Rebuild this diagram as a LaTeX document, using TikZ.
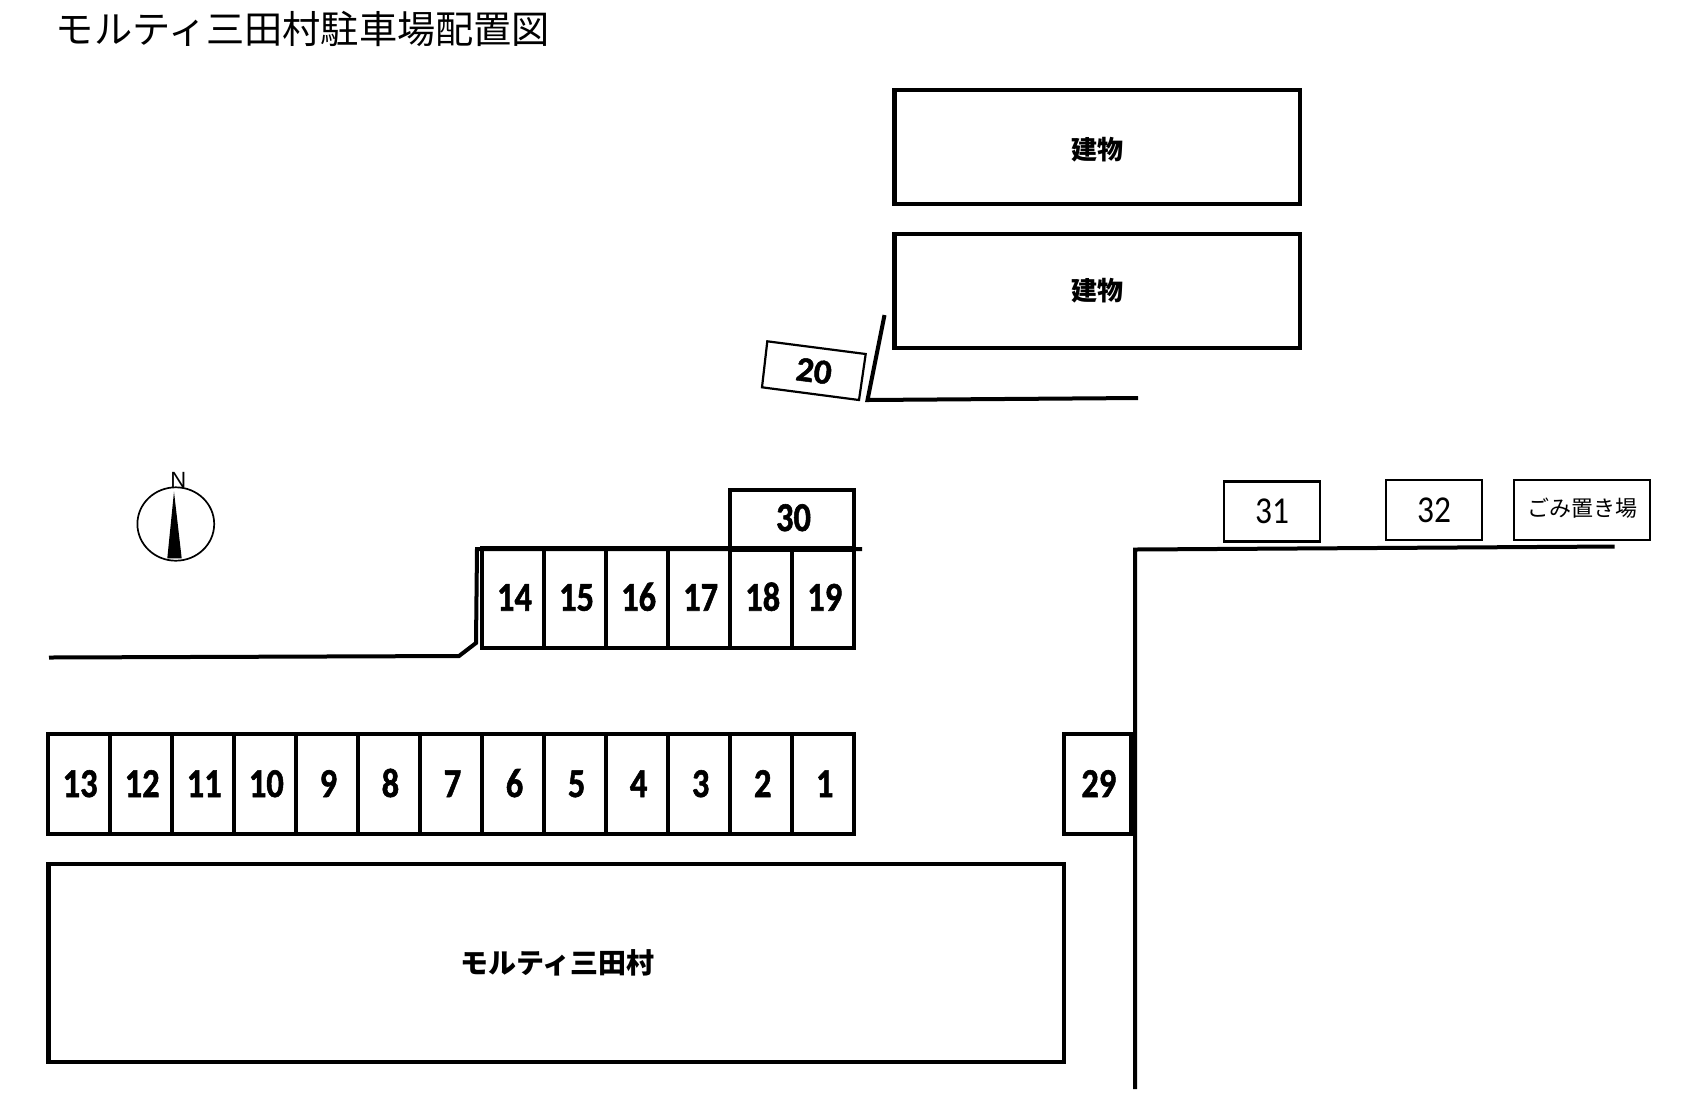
\documentclass[tikz,border=0pt]{standalone}
\usepackage{fontspec}
\usetikzlibrary{shapes.geometric}
\newfontfamily\jpfont{Noto Sans CJK JP}
\newfontfamily\digitfont[BoldFeatures={FakeBold=1.4}]{Carlito}
\newfontfamily\norfont{Liberation Sans}
\newcommand{\parkno}[1]{\kern1.5pt\scalebox{.84}[1]{#1}}
\tikzset{
  building/.style={draw=black,line width=2.15pt,rectangle,inner sep=0pt,font=\jpfont\bfseries\fontsize{13}{13}\selectfont},
  slot/.style={draw=black,line width=2pt,rectangle,inner sep=0pt,minimum width=31pt,minimum height=50pt,text height=13pt,text depth=0pt,font=\digitfont\bfseries\fontsize{20.5}{21}\selectfont},
  thinbox/.style={draw=black,line width=1.15pt,rectangle,inner sep=0pt,minimum width=48pt,minimum height=30pt,font=\digitfont\fontsize{19}{19}\selectfont},
  wall/.style={draw=black,line width=2pt,line join=miter},
}
\begin{document}
\begin{tikzpicture}[x=0.5pt,y=-0.5pt]
\useasboundingbox[fill=white] (0,0) rectangle (1682,1100);
% title
\node[inner sep=0pt,font=\jpfont\fontsize{19.1}{19}\selectfont] (title) at (303,29) {モルティ三田村駐車場配置図};
% buildings
\node[building,minimum width=202.75pt,minimum height=57pt,text height=13.5pt,text depth=1pt] (b1) at (1097.25,147) {建物};
\node[building,minimum width=202.75pt,minimum height=57pt] (b2) at (1097.25,291) {建物};
\node[building,minimum width=507.7pt,minimum height=99pt,font=\jpfont\bfseries\fontsize{14}{14}\selectfont] (mb) at (556.3,963) {\kern1pt モルティ三田村};
% space 20
\coordinate (a1) at (767.3,341.3);
\coordinate (a2) at (865.7,354);
\coordinate (a3) at (859,400);
\coordinate (a4) at (762,387.3);
\draw[line width=1.1pt] (a1) -- (a2) -- (a3) -- (a4) -- cycle;
\node[rotate=-7.5,inner sep=0pt,font=\digitfont\bfseries\fontsize{17.5}{18}\selectfont] (s20) at (814,371) {20};
% wall by building
\coordinate (w1) at (884.5,315);
\coordinate (w2) at (867.5,400);
\coordinate (w3) at (1138,398);
\draw[wall] (w1) -- (w2) -- (w3);
% slot 30
\node[slot,minimum width=61.8pt,minimum height=30pt] (s30) at (792,520) {\raisebox{1pt}{\parkno{30}}};
% rows
\foreach \i/\t in {1/1,2/2,3/3,4/4,5/5,6/6,7/7,8/8,9/9,10/10,11/11,12/12,13/13}
  \node[slot] (s\i) at ({854.3-62.05*\i+31.02},784) {\parkno{\t}};
\foreach \i/\t in {0/14,1/15,2/16,3/17,4/18,5/19}
  \node[slot] (s\t) at ({482+62.05*\i+31.02},597.7) {\parkno{\t}};
% line over upper row and left wall
\coordinate (l1) at (862,549);
\coordinate (l2) at (477,549);
\coordinate (l3) at (476,643);
\coordinate (l4) at (459,656);
\coordinate (l5) at (49,657.5);
\draw[wall] (l1) -- (l2) -- (l3) -- (l4) -- (l5);
% 29
\node[slot,minimum width=33.7pt] (s29) at (1097.3,784) {\parkno{29}};
% right wall
\coordinate (r1) at (1135,1089);
\coordinate (r2) at (1135,549.5);
\coordinate (r3) at (1614.6,546.5);
\draw[wall] (r1) -- (r2) -- (r3);
% small boxes
\node[thinbox] (s31) at (1272,511.5) {\scalebox{.88}[1]{31}};
\node[thinbox] (s32) at (1434,510) {\scalebox{.88}[1]{32}};
\node[thinbox,minimum width=68pt,text height=9.5pt,text depth=3pt,font=\jpfont\fontsize{11}{11}\selectfont] (trash) at (1582,510) {ごみ置き場};
% north mark
\node[draw=black,line width=.85pt,ellipse,minimum width=38.4pt,minimum height=36.7pt,inner sep=0pt] (compass) at (175.8,524) {};
\coordinate (n1) at (174,491.7);
\coordinate (n2) at (181.7,558.3);
\coordinate (n3) at (167.3,558.3);
\fill[black] (n1) -- (n2) -- (n3) -- cycle;
\node[inner sep=0pt,font=\norfont\fontsize{11}{11}\selectfont] (north) at (178.3,480) {N};
\end{tikzpicture}
\end{document}
